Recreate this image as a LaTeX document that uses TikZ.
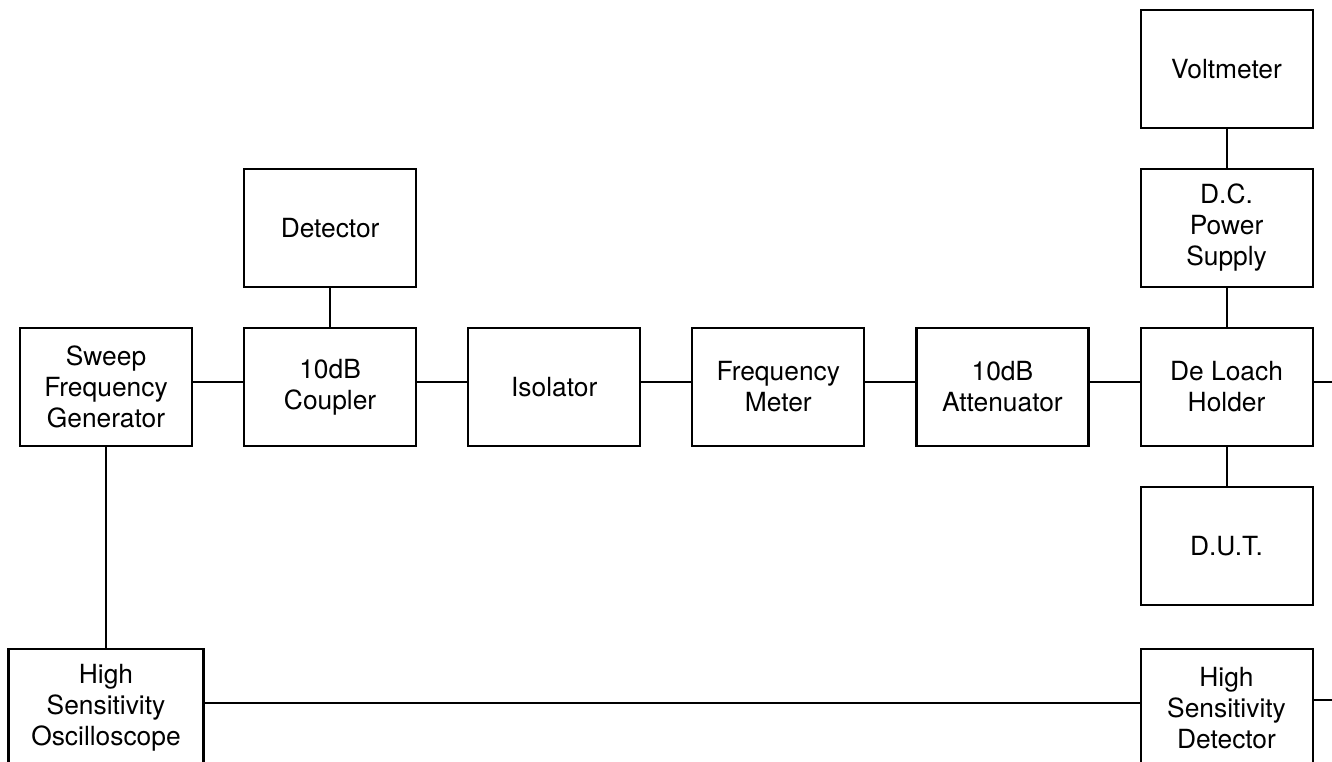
\documentclass[tikz,border=0pt]{standalone}
\usepackage{fontspec}
\setmainfont{TeX Gyre Heros}
\usetikzlibrary{
    positioning,
    calc
}
\tikzset{
    % Box styles
    unit box/.style={
        draw=black,
        line width=1.2pt,
        rectangle,
        minimum height=2.36cm,
        minimum width=3.44cm,
        inner sep=0pt,
        align=center,
        font=\fontsize{15pt}{17.6pt}\selectfont
    },
    wide box/.style={
        unit box,
        minimum width=3.9cm
    },
    % Line styles
    wire/.style={
        line width=1.2pt,
        black
    }
}

\begin{document}
\begin{tikzpicture}[node distance=1.0cm]
        \useasboundingbox (0,0) rectangle (26.64,-15.24);
        % Nodes
        \node[unit box] (sweep) at (2.12,-7.74) {Sweep\\Frequency\\Generator};
        \node[unit box, right=of sweep] (coupler) {10dB\\Coupler};
        \node[unit box, above=0.78cm of coupler] (detector) {Detector};
        \node[unit box, right=of coupler] (isolator) {Isolator};
        \node[unit box, right=of isolator] (freqmeter) {Frequency\\Meter};
        \node[unit box, right=of freqmeter] (attenuator) {10dB\\Attenuator};
        \node[unit box, right=of attenuator] (holder) {De Loach\\Holder};
        \node[unit box, above=0.78cm of holder] (supply) {D.C.\\Power\\Supply};
        \node[unit box, above=0.78cm of supply] (voltmeter) {Voltmeter};
        \node[unit box, below=0.78cm of holder] (dut) {D.U.T.};
        \node[wide box, below=4.02cm of sweep] (scope) {High\\Sensitivity\\Oscilloscope};
        \node[unit box] (hsdetector) at (scope -| holder) {High\\Sensitivity\\Detector};
        \coordinate (holder out) at (26.7,-7.64);
        \coordinate (hsdetector out) at (26.7,-14.0);

        % Edges
        \draw[wire] ([yshift=1mm]sweep.east) -- ([yshift=1mm]coupler.west);
        \draw[wire] ([yshift=1mm]coupler.east) -- ([yshift=1mm]isolator.west);
        \draw[wire] ([yshift=1mm]isolator.east) -- ([yshift=1mm]freqmeter.west);
        \draw[wire] ([yshift=1mm]freqmeter.east) -- ([yshift=1mm]attenuator.west);
        \draw[wire] ([yshift=1mm]attenuator.east) -- ([yshift=1mm]holder.west);
        \draw[wire] (holder.east |- holder out) -- (holder out);
        \draw[wire] (detector) -- (coupler);
        \draw[wire] (voltmeter) -- (supply);
        \draw[wire] (supply) -- (holder);
        \draw[wire] (holder) -- (dut);
        \draw[wire] (sweep) -- (scope);
        \draw[wire] ([yshift=1mm]scope.east) -- ([yshift=1mm]hsdetector.west);
        \draw[wire] (hsdetector.east |- hsdetector out) -- (hsdetector out);
    \end{tikzpicture}
\end{document}
